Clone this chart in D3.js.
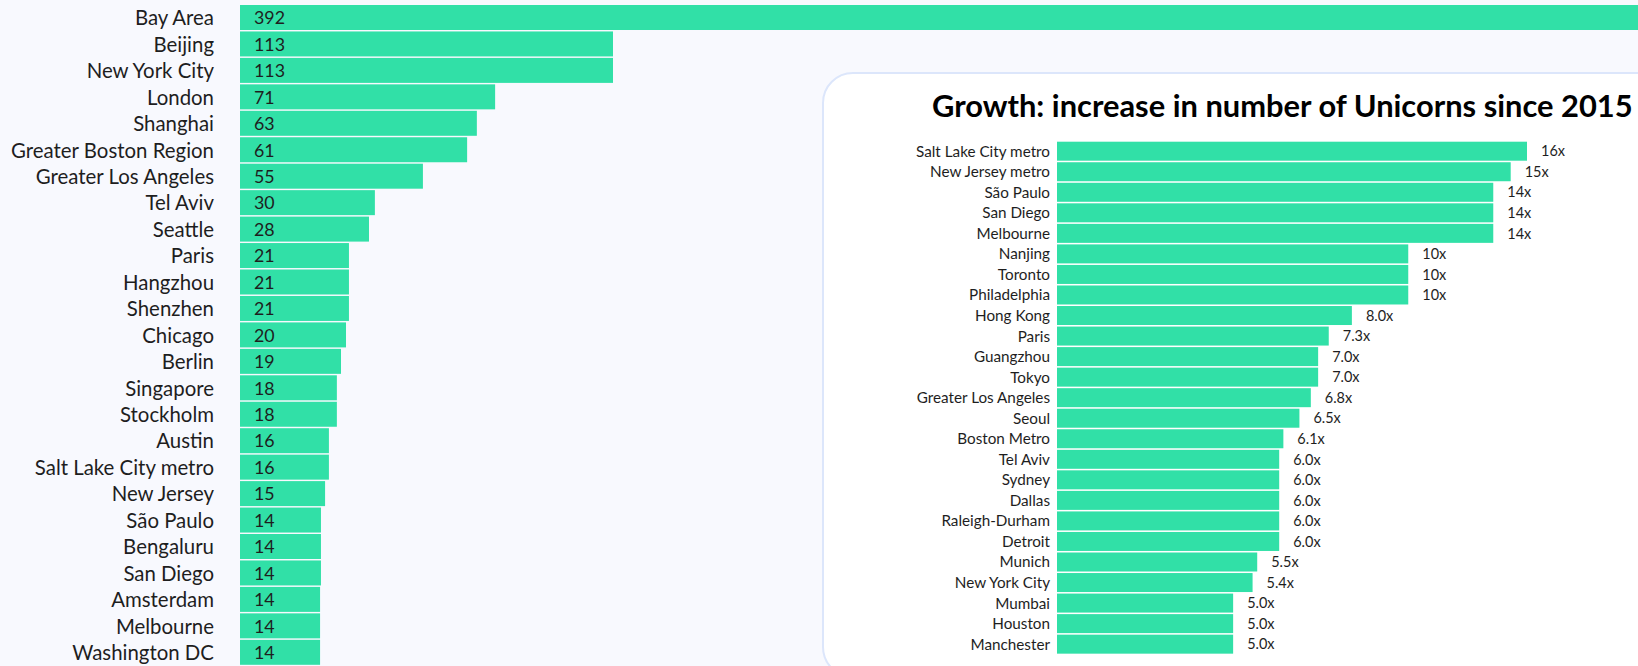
<!DOCTYPE html>
<html>
<head>
<meta charset="utf-8">
<script src="https://cdn.jsdelivr.net/npm/d3@7"></script>
<style>
  html, body { margin: 0; padding: 0; background: #f8f9fe; overflow: hidden; }
  svg { display: block; }
  text { font-family: Lato, "Noto Sans", sans-serif; }
</style>
</head>
<body>
<svg id="chart" width="1638" height="666"></svg>
<script>
// ---- Left chart: number of unicorns by city ----
const cities = ["Bay Area","Beijing","New York City","London","Shanghai","Greater Boston Region",
  "Greater Los Angeles","Tel Aviv","Seattle","Paris","Hangzhou","Shenzhen","Chicago","Berlin",
  "Singapore","Stockholm","Austin","Salt Lake City metro","New Jersey","São Paulo","Bengaluru",
  "San Diego","Amsterdam","Melbourne","Washington DC"];
const unicornCounts = [392,113,113,71,63,61,55,30,28,21,21,21,20,19,18,18,16,16,15,14,14,14,14,14,14];
// bar lengths as drawn in the picture (same units as counts)
const barValues = [480,113,113,73,66.8,63.5,48.5,32.2,30.2,23.4,23.4,23.4,22.4,20.7,19.3,19.3,16.6,16.6,15.3,13.9,13.9,13.9,13.6,13.6,13.6];

// ---- Right chart: growth since 2015 ----
const growthCities = ["Salt Lake City metro","New Jersey metro","São Paulo","San Diego","Melbourne",
  "Nanjing","Toronto","Philadelphia","Hong Kong","Paris","Guangzhou","Tokyo","Greater Los Angeles",
  "Seoul","Boston Metro","Tel Aviv","Sydney","Dallas","Raleigh-Durham","Detroit","Munich",
  "New York City","Mumbai","Houston","Manchester"];
const growthValues = [16,15,14,14,14,10,10,10,8.0,7.3,7.0,7.0,6.8,6.5,6.1,6.0,6.0,6.0,6.0,6.0,5.5,5.4,5.0,5.0,5.0];
const growthLabels = ["16x","15x","14x","14x","14x","10x","10x","10x","8.0x","7.3x","7.0x","7.0x","6.8x",
  "6.5x","6.1x","6.0x","6.0x","6.0x","6.0x","6.0x","5.5x","5.4x","5.0x","5.0x","5.0x"];
const growthTitle = "Growth: increase in number of Unicorns since 2015";

const BAR = "#31e0a7";
const TXT = "#1e1e1e";
const svg = d3.select("#chart");

function fitSize(str, weight, target) {
  const t = svg.append("text").attr("font-size", 100).attr("font-weight", weight).text(str);
  const w = t.node().getComputedTextLength();
  t.remove();
  return 100 * target / w;
}

// ---------- Left chart ----------
const yL = d3.scaleBand().domain(cities).range([5, 5 + 26.45 * cities.length - 1.45])
  .paddingInner(0.055).paddingOuter(0);
const xL = d3.scaleLinear().domain([-13.57, 113]).range([240, 613]);

const leftLabelSize = fitSize("Greater Boston Region", 400, 203);
const leftValSize = fitSize("392", 400, 31);

const gL = svg.append("g");
gL.selectAll("rect").data(cities).join("rect")
  .attr("x", xL(-13.57))
  .attr("y", d => yL(d))
  .attr("width", (d, i) => xL(barValues[i]) - xL(-13.57))
  .attr("height", yL.bandwidth())
  .attr("fill", BAR);

gL.selectAll("text.cat").data(cities).join("text").attr("class", "cat")
  .attr("x", 214).attr("y", d => yL(d) + yL.bandwidth() / 2)
  .attr("dy", "0.38em").attr("text-anchor", "end")
  .attr("font-size", leftLabelSize).attr("fill", TXT).text(d => d);

gL.selectAll("text.val").data(cities).join("text").attr("class", "val")
  .attr("x", 254).attr("y", d => yL(d) + yL.bandwidth() / 2)
  .attr("dy", "0.38em").attr("font-size", leftValSize).attr("fill", TXT)
  .text((d, i) => unicornCounts[i]);

// ---------- Right panel ----------
svg.append("rect").attr("x", 823).attr("y", 73).attr("width", 900).attr("height", 604)
  .attr("rx", 30).attr("ry", 30).attr("fill", "#ffffff").attr("stroke", "#dce6fb").attr("stroke-width", 2);

const titleSize = fitSize(growthTitle, 700, 701);
svg.append("text").attr("x", 932).attr("y", 117).attr("font-size", titleSize)
  .attr("font-weight", 700).attr("fill", "#000").text(growthTitle);

const yR = d3.scaleBand().domain(growthCities).range([141.7, 141.7 + 20.54 * growthCities.length - 1.54])
  .paddingInner(0.075).paddingOuter(0);
const xR = d3.scaleLog().domain([2.49, 16]).range([1057, 1527]);

const rightLabelSize = fitSize("Salt Lake City metro", 400, 134);
const rightValSize = fitSize("16x", 400, 24);

const gR = svg.append("g");
gR.selectAll("rect").data(growthCities).join("rect")
  .attr("x", xR(2.49)).attr("y", d => yR(d))
  .attr("width", (d, i) => xR(growthValues[i]) - xR(2.49))
  .attr("height", yR.bandwidth()).attr("fill", BAR);

gR.selectAll("text.cat").data(growthCities).join("text").attr("class", "cat")
  .attr("x", 1050).attr("y", d => yR(d) + yR.bandwidth() / 2)
  .attr("dy", "0.36em").attr("text-anchor", "end")
  .attr("font-size", rightLabelSize).attr("fill", TXT).text(d => d);

gR.selectAll("text.val").data(growthCities).join("text").attr("class", "val")
  .attr("x", (d, i) => xR(growthValues[i]) + 14).attr("y", d => yR(d) + yR.bandwidth() / 2)
  .attr("dy", "0.36em").attr("font-size", rightValSize).attr("fill", TXT)
  .text((d, i) => growthLabels[i]);
</script>
</body>
</html>
